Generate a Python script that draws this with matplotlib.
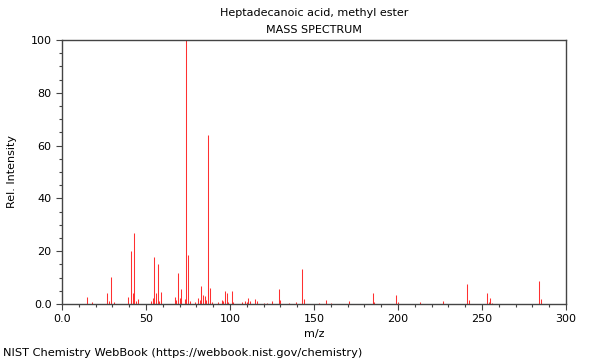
import matplotlib
matplotlib.use("Agg")
import matplotlib.pyplot as plt
from matplotlib.ticker import MultipleLocator, FuncFormatter

title = "Heptadecanoic acid, methyl ester"
subtitle = "MASS SPECTRUM"
footer = "NIST Chemistry WebBook (https://webbook.nist.gov/chemistry)"

mz = [15, 18, 27, 28, 29, 31,
      39, 41, 42, 43, 44, 45,
      53, 54, 55, 56, 57, 58, 59,
      67, 68, 69, 70, 71, 73, 74, 75, 76,
      79, 81, 82, 83, 84, 85, 86, 87, 88, 89,
      93, 95, 96, 97, 98, 99, 101, 102,
      107, 109, 110, 111, 112, 115, 116, 120, 122, 125, 129, 130, 135, 139,
      143, 144, 153, 157, 160, 171, 185, 186, 199, 200, 213, 227,
      241, 242, 253, 254, 255, 256, 284, 285]
intensity = [2.8, 0.8, 4.0, 1.2, 10.3, 0.8,
             2.5, 20.1, 4.3, 26.8, 1.3, 2.0,
             1.2, 2.2, 17.9, 4.3, 15.1, 1.0, 4.6,
             2.5, 1.6, 11.9, 2.4, 5.8, 1.8, 100.0, 18.7, 1.3,
             0.8, 2.3, 1.6, 6.9, 3.3, 3.0, 1.5, 64.2, 5.9, 0.8,
             0.8, 1.6, 1.0, 5.0, 4.0, 0.8, 5.0, 0.8,
             0.8, 1.0, 0.6, 2.4, 1.1, 1.9, 1.1, 0.4, 0.4, 1.0, 5.7, 1.5, 0.5, 0.8,
             13.3, 1.8, 0.5, 1.5, 0.4, 1.1, 4.0, 0.8, 3.4, 0.6, 0.6, 1.1,
             7.6, 1.5, 4.2, 0.8, 2.1, 0.5, 8.7, 1.8]

fig = plt.figure(figsize=(6, 3.6), dpi=100)
ax = fig.add_axes([62/600, 1-304/360, 504/600, 264/360])
ax.vlines(mz, 0, intensity, colors="#ff3030", linewidth=0.75)
ax.set_xlim(0, 300)
ax.set_ylim(0, 100)
ax.xaxis.set_major_locator(MultipleLocator(50))
ax.xaxis.set_minor_locator(MultipleLocator(10))
ax.yaxis.set_major_locator(MultipleLocator(20))
ax.yaxis.set_minor_locator(MultipleLocator(5))
fmt = FuncFormatter(lambda v, p: "0.0" if abs(v) < 1e-9 else f"{v:g}")
ax.xaxis.set_major_formatter(fmt)
ax.yaxis.set_major_formatter(fmt)
for s in ax.spines.values():
    s.set_color("#444444")
    s.set_linewidth(1.0)
ax.tick_params(which="major", length=4, width=0.8, color="#444444", labelsize=8)
ax.tick_params(which="minor", length=2, width=0.8, color="#444444")
ax.set_xlabel("m/z", fontsize=8, labelpad=3)
ax.set_ylabel("Rel. Intensity", fontsize=8, labelpad=10)

fig.text(0.523, 1-13/360, title, ha="center", va="center", fontsize=8)
fig.text(0.523, 1-30/360, subtitle, ha="center", va="center", fontsize=8)
fig.text(3/600, 1-353/360, footer, ha="left", va="center", fontsize=8.2)

fig.savefig("out.png", dpi=100)
